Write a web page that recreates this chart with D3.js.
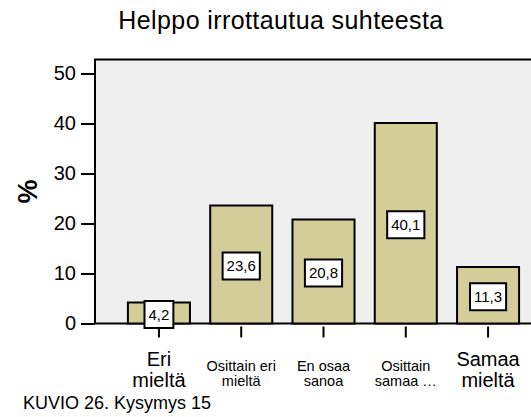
<!DOCTYPE html>
<html>
<head>
<meta charset="utf-8">
<script src="https://cdn.jsdelivr.net/npm/d3@7"></script>
<style>
  body { margin: 0; background: #fff; }
  svg text { font-family: Arial, "Liberation Sans", sans-serif; fill: #000; }
</style>
</head>
<body>
<div id="divChart"></div>
<script>
// donnees du graphique
var chartTitle = 'Helppo irrottautua suhteesta';
var yLabel = '%';
var caption = 'KUVIO 26. Kysymys 15';
var categories = ['Eri mieltä', 'Osittain eri mieltä', 'En osaa sanoa', 'Osittain samaa mieltä', 'Samaa mieltä'];
// libelles de l'axe x, coupes en lignes comme dans l'original
var categoryLines = [['Eri', 'mieltä'], ['Osittain eri', 'mieltä'], ['En osaa', 'sanoa'], ['Osittain', 'samaa …'], ['Samaa', 'mieltä']];
var values = [4.2, 23.6, 20.8, 40.1, 11.3];
var valueLabels = ['4,2', '23,6', '20,8', '40,1', '11,3'];
var yTicks = [0, 10, 20, 30, 40, 50];

(function(chart){

  var width = 531, height = 417;
  var plot = {left: 95, right: 552, top: 59.5, bottom: 323.5};

  var svg = d3.select('#divChart').append('svg')
    .attr('width', width)
    .attr('height', height);

  // echelles
  var x = d3.scaleBand()
    .domain(categories)
    .range([plot.left, plot.right])
    .paddingInner(0.246)
    .paddingOuter(0.4);

  var y = d3.scaleLinear()
    .domain([0, 52.8])
    .range([plot.bottom, plot.top]);

  // fond de la zone de trace
  svg.append('rect')
    .attr('x', plot.left).attr('y', plot.top)
    .attr('width', plot.right - plot.left)
    .attr('height', plot.bottom - plot.top)
    .attr('fill', '#efefef')
    .attr('stroke', '#000')
    .attr('stroke-width', 2);

  // axe y
  var yAxis = svg.append('g')
    .attr('transform', 'translate(' + plot.left + ',0)')
    .call(d3.axisLeft(y).tickValues(yTicks).tickSize(14).tickPadding(5));
  yAxis.select('.domain').remove();
  yAxis.selectAll('.tick line').attr('stroke', '#000').attr('stroke-width', 2);
  yAxis.selectAll('.tick text').attr('font-size', 20).attr('fill', '#000')
    .style('font-family', 'Arial, "Liberation Sans", sans-serif');

  svg.append('text')
    .attr('transform', 'translate(37,' + ((plot.top + plot.bottom) / 2) + ') rotate(-90)')
    .attr('text-anchor', 'middle')
    .attr('font-size', 27)
    .attr('font-weight', 'bold')
    .text(yLabel);

  // barres
  svg.append('g').selectAll('rect')
    .data(values)
    .join('rect')
    .attr('x', function(d, i){ return x(categories[i]); })
    .attr('y', function(d){ return y(d); })
    .attr('width', x.bandwidth())
    .attr('height', function(d){ return y(0) - y(d); })
    .attr('fill', '#d3ce99')
    .attr('stroke', '#000')
    .attr('stroke-width', 2);

  // graduations de l'axe x, un peu sous le cadre
  svg.append('g').selectAll('line')
    .data(categories)
    .join('line')
    .attr('x1', function(d){ return x(d) + x.bandwidth() / 2; })
    .attr('x2', function(d){ return x(d) + x.bandwidth() / 2; })
    .attr('y1', plot.bottom + 3)
    .attr('y2', plot.bottom + 14)
    .attr('stroke', '#000')
    .attr('stroke-width', 2);

  // libelles de l'axe x : petits si une ligne est longue
  svg.append('g').selectAll('text')
    .data(categoryLines)
    .join('text')
    .attr('text-anchor', 'middle')
    .each(function(lines, i){
      var small = d3.max(lines, function(l){ return l.length; }) > 6;
      var size = small ? 14.5 : 20;
      var cx = x(categories[i]) + x.bandwidth() / 2;
      var t = d3.select(this).attr('font-size', size);
      lines.forEach(function(l, k){
        t.append('tspan')
          .attr('x', cx)
          .attr('y', small ? 371 + k * 15 : 366 + k * 21)
          .text(l);
      });
    });

  // etiquettes de valeur dans des cadres blancs
  var boxes = svg.append('g').selectAll('g')
    .data(values)
    .join('g')
    .attr('transform', function(d, i){
      return 'translate(' + (x(categories[i]) + x.bandwidth() / 2) + ',' + ((y(d) + y(0)) / 2 + 1.5) + ')';
    });
  boxes.append('text')
    .attr('text-anchor', 'middle')
    .attr('dy', '0.35em')
    .attr('font-size', 15)
    .text(function(d, i){ return valueLabels[i]; });
  boxes.each(function(){
    var g = d3.select(this);
    var bb = g.select('text').node().getBBox();
    g.insert('rect', 'text')
      .attr('x', bb.x - 4).attr('y', -13.5)
      .attr('width', bb.width + 8).attr('height', 27)
      .attr('fill', '#fff')
      .attr('stroke', '#000')
      .attr('stroke-width', 2);
  });

  // titre et legende
  svg.append('text')
    .attr('x', 281).attr('y', 29)
    .attr('text-anchor', 'middle')
    .attr('font-size', 25)
    .attr('letter-spacing', 0.4)
    .text(chartTitle);

  svg.append('text')
    .attr('x', 23).attr('y', 409)
    .attr('font-size', 18)
    .text(caption);

}(window.chart = window.chart || {}));
</script>
</body>
</html>
